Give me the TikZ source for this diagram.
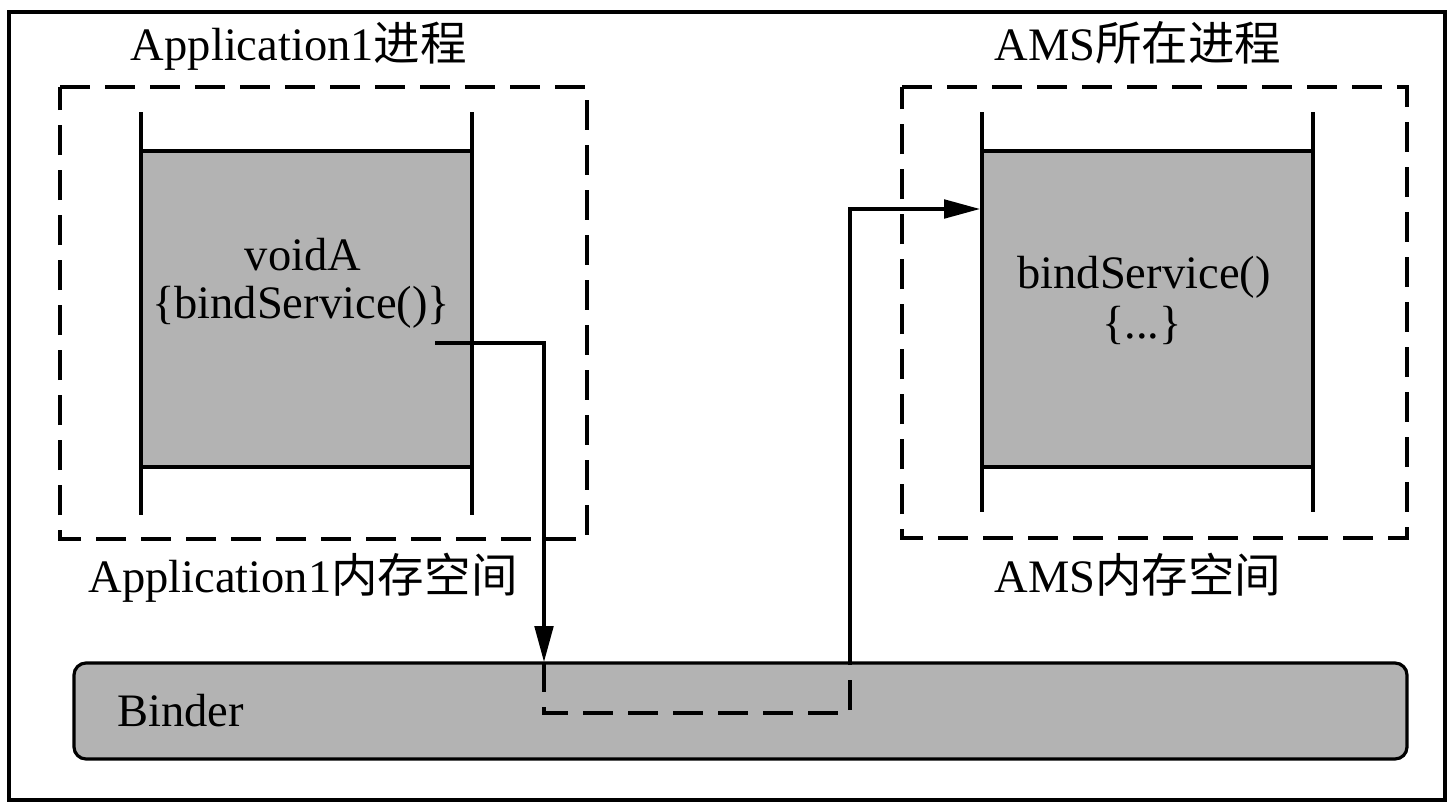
\documentclass[tikz,border=0pt]{standalone}
\usepackage{fontspec}
\setmainfont{Liberation Serif}
\newfontfamily\cjk{Noto Sans CJK SC}
\usetikzlibrary{arrows.meta}
\definecolor{memgray}{RGB}{179,179,179}

\begin{document}
\begin{tikzpicture}[x=0.75pt,y=0.75pt,yscale=-1,xscale=1,
  lbl/.style={inner sep=0.75pt,font=\fontsize{34.9}{42}\selectfont},
  procbox/.style={line width=2.4pt,dash pattern=on 22.5pt off 11.25pt},
  memline/.style={line width=2.4pt},
  callarrow/.style={line width=2.4pt,-{Triangle[length=27pt,width=14pt]}}]
\useasboundingbox (0,0) rectangle (1456,810);

%Shape: Rectangle [outer frame]
\draw [line width=2.8pt] (9,12) -- (1445,12) -- (1445,800) -- (9,800) -- cycle ;

%Shape: Rectangle [Application1 process]
\draw [procbox] (60,87) -- (587,87) -- (587,539) -- (60,539) -- cycle ;
%Shape: Rectangle [Application1 memory]
\draw [memline, fill=memgray] (141,151) rectangle (472,467) ;
%Straight Lines
\draw [memline] (141,112) -- (141,515) ;
\draw [memline] (472,112) -- (472,515) ;

%Shape: Rectangle [AMS process]
\draw [procbox] (902,87) -- (1407,87) -- (1407,538) -- (902,538) -- cycle ;
%Shape: Rectangle [AMS memory]
\draw [memline, fill=memgray] (982,151) rectangle (1313,467) ;
%Straight Lines
\draw [memline] (982,112) -- (982,512) ;
\draw [memline] (1313,112) -- (1313,512) ;

%Shape: Rounded Rect [Binder]
\draw [memline, fill=memgray, rounded corners=9pt] (74,663) rectangle (1407,759) ;

% Text Node
\draw (299,60) node (apptitle) [lbl, anchor=base] {Application1{\cjk 进程}};
% Text Node
\draw (303,592) node (appmem) [lbl, anchor=base] {Application1{\cjk 内存空间}};
% Text Node
\draw (1138,60) node (amstitle) [lbl, anchor=base] {AMS{\cjk 所在进程}};
% Text Node
\draw (1138,592) node (amsmem) [lbl, anchor=base] {AMS{\cjk 内存空间}};
% Text Node
\draw (303,270) node (voida) [lbl, anchor=base] {voidA};
% Text Node
\draw (301,318) node (callbind) [lbl, anchor=base] {\{bindService()\}};
% Text Node
\draw (1144,288) node (amsbind) [lbl, anchor=base] {bindService()};
% Text Node
\draw (1142,338) node (amsbody) [lbl, anchor=base] {\{...\}};
% Text Node
\draw (116,726) node (binder) [lbl, anchor=base west] {Binder};

%Connector points
\coordinate (callstart) at (435,343);
\coordinate (binderin) at (544,662);
\coordinate (binderlow) at (700,713);
\coordinate (binderout) at (850,662);
\coordinate (amsentry) at (980,209);

%Straight Lines [call into Binder]
\draw [callarrow] (callstart) -| (binderin) ;
%Straight Lines [inside Binder]
\draw [procbox] (binderin) |- (binderlow) -| (binderout) ;
%Straight Lines [Binder to AMS]
\draw [callarrow] (binderout) |- (amsentry) ;

\end{tikzpicture}
\end{document}
